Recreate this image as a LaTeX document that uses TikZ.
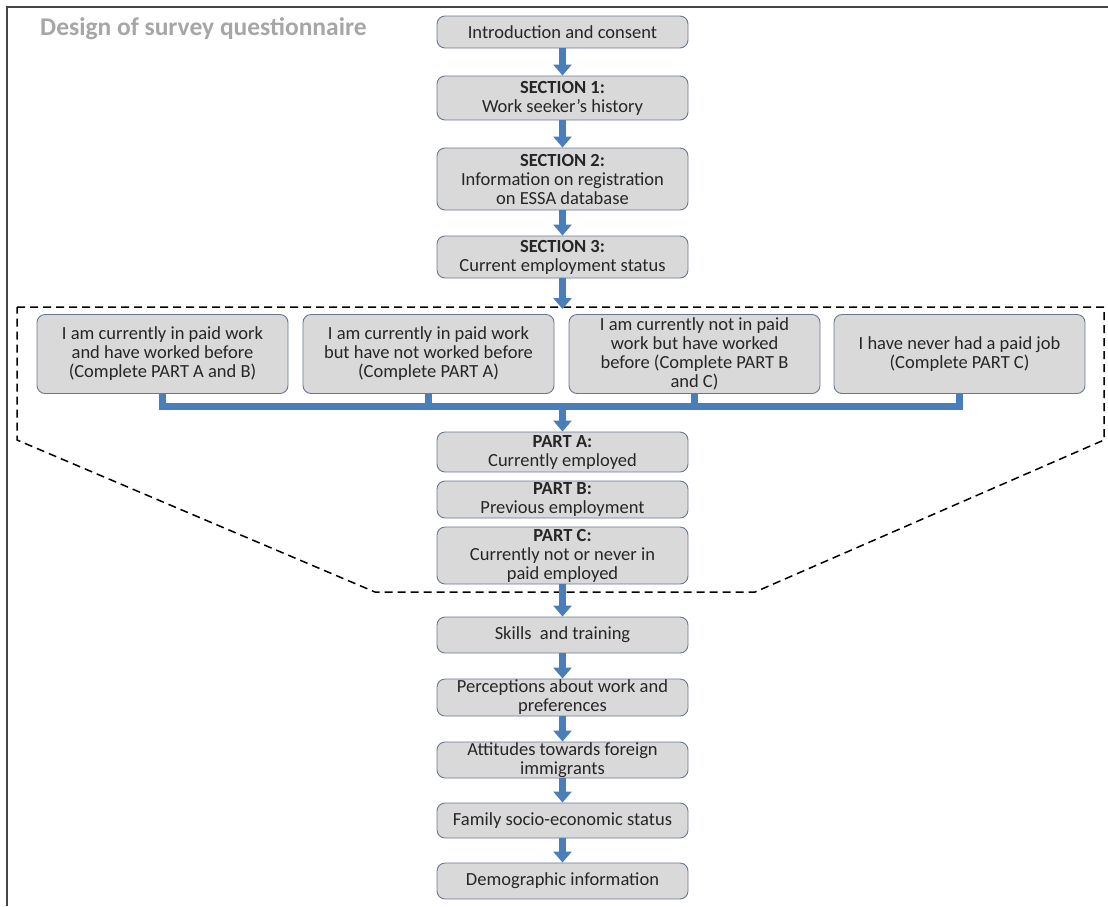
\documentclass[tikz,border=0pt]{standalone}
\usepackage{fontspec}
\setmainfont{Carlito}
\usetikzlibrary{arrows.meta}
\definecolor{arrowblue}{RGB}{74,126,187}
\definecolor{boxfill}{RGB}{217,217,217}
\definecolor{boxline}{RGB}{105,120,145}
\definecolor{titlegray}{RGB}{166,166,166}
\definecolor{txt}{RGB}{38,38,38}
\definecolor{framegray}{RGB}{70,70,70}
\begin{document}
\begin{tikzpicture}[x=1pt,y=-1pt,
  box/.style={draw=boxline, line width=0.9pt, fill=boxfill, rounded corners=8pt,
    minimum width=251pt, align=center, font=\fontsize{18.5}{19}\selectfont,
    text=txt, inner sep=0pt},
  flow/.style={draw=arrowblue, line width=7pt, -{Triangle[width=18pt,length=11pt]}},
  bus/.style={draw=arrowblue, line width=7pt},
  region/.style={draw=black, line width=1.5pt, dash pattern=on 8pt off 5pt},
  frameline/.style={draw=framegray, line width=1.2pt},
  title/.style={anchor=west, font=\fontsize{25.5}{28}\selectfont\bfseries, text=titlegray, inner sep=0pt}]
\useasboundingbox (0,0) rectangle (1108,906);
\draw[frameline] (7,906) -- (7,7) -- (1108,7);
\node[title] (ttl) at (40,29) {Design of survey questionnaire};

\draw[region] (17,307) -- (1104,307) -- (1104,440) -- (755,592) -- (375,592) -- (17,440) -- cycle;

\node[box, minimum height=32pt] (intro) at (562.5,32) {Introduction and consent};
\node[box, minimum height=44pt] (s1) at (562.5,98) {\textbf{SECTION 1:}\\Work seeker’s history};
\node[box, minimum height=62pt] (s2) at (562.5,179) {\textbf{SECTION 2:}\\Information on registration\\on ESSA database};
\node[box, minimum height=42pt] (s3) at (562.5,257) {\textbf{SECTION 3:}\\Current employment status};

\node[box, minimum height=79pt] (o1) at (162.5,354) {I am currently in paid work\\and have worked before\\(Complete PART A and B)};
\node[box, minimum height=79pt] (o2) at (428.5,354) {I am currently in paid work\\but have not worked before\\(Complete PART A)};
\node[box, minimum height=79pt] (o3) at (694.5,354) {I am currently not in paid\\work but have worked\\before (Complete PART B\\and C)};
\node[box, minimum height=79pt] (o4) at (959.5,354) {I have never had a paid job\\(Complete PART C)};

\node[box, minimum height=40pt] (pA) at (562.5,452) {\textbf{PART A:}\\Currently employed};
\node[box, minimum height=37pt] (pB) at (562.5,499.5) {\textbf{PART B:}\\Previous employment};
\node[box, minimum height=57pt] (pC) at (562.5,555.5) {\textbf{PART C:}\\Currently not or never in\\paid employed};

\node[box, minimum height=36pt] (sk) at (562.5,635) {Skills\ \ and training};
\node[box, minimum height=37pt] (pe) at (562.5,697.5) {Perceptions about work and\\preferences};
\node[box, minimum height=36pt] (at) at (562.5,760) {Attitudes towards foreign\\immigrants};
\node[box, minimum height=35pt] (fa) at (562.5,820.5) {Family socio-economic status};
\node[box, minimum height=36pt] (de) at (562.5,881) {Demographic information};

\coordinate (dtop) at (562.5,309);
\coordinate (busy) at (0,406);

\draw[flow] (intro.south) -- (s1.north);
\draw[flow] (s1.south) -- (s2.north);
\draw[flow] (s2.south) -- (s3.north);
\draw[flow] (s3.south) -- (dtop);

\draw[bus] (o1.south) -- (o1.south|-busy) -- (o4.south|-busy) -- (o4.south);
\draw[bus] (o2.south) -- (o2.south|-busy);
\draw[bus] (o3.south) -- (o3.south|-busy);
\draw[flow] (pA.north|-busy) -- (pA.north);

\draw[flow] (pC.south) -- (sk.north);
\draw[flow] (sk.south) -- (pe.north);
\draw[flow] (pe.south) -- (at.north);
\draw[flow] (at.south) -- (fa.north);
\draw[flow] (fa.south) -- (de.north);
\end{tikzpicture}
\end{document}
